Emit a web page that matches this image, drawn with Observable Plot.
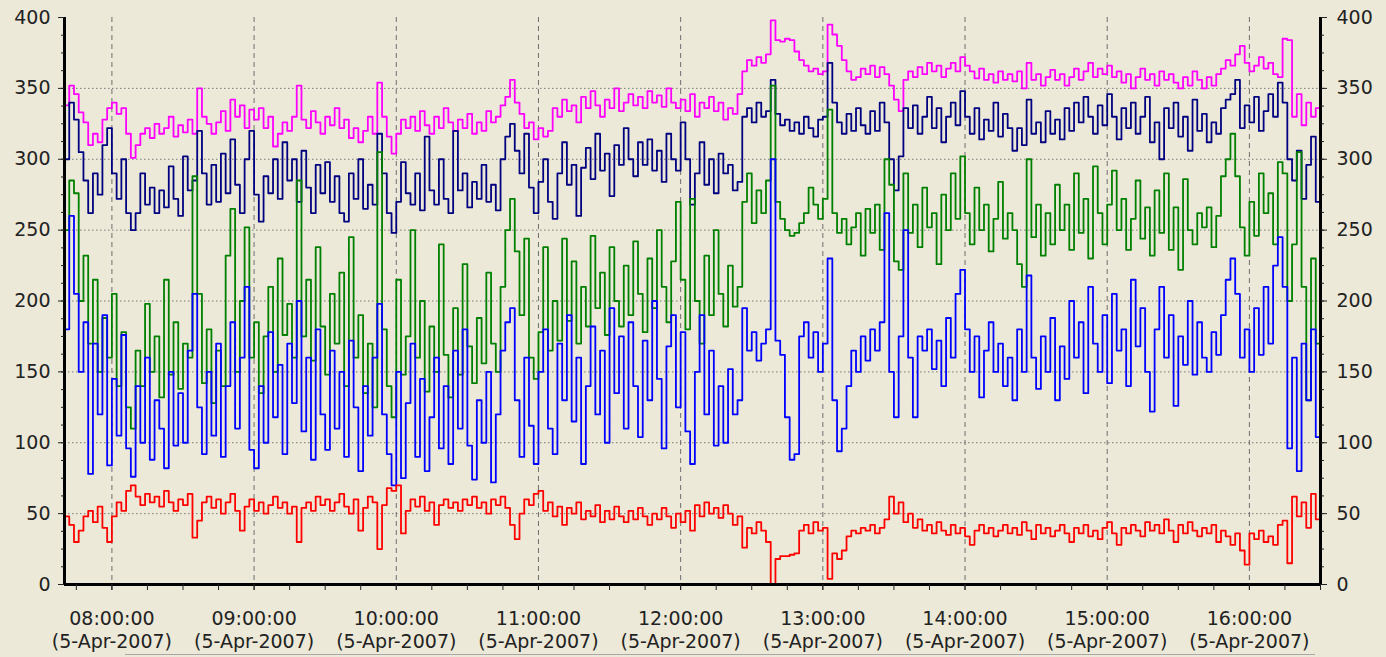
<!DOCTYPE html>
<html>
<head>
<meta charset="utf-8">
<script src="https://cdn.jsdelivr.net/npm/d3@7"></script>
<script src="https://cdn.jsdelivr.net/npm/@observablehq/plot@0.6"></script>
<style>
html, body { margin: 0; padding: 0; background: #ECE9D8; overflow: hidden; }
#chart { position: relative; width: 1386px; height: 657px; }
#chart svg { position: absolute; left: 0; top: 0; }
#baseline { position: absolute; left: 125px; top: 654px; width: 1190px; height: 1px; background: #a8a8a8; }
</style>
</head>
<body>
<div id="chart"><div id="baseline"></div></div>
<script>
// Samples every 2 minutes from 07:40 to 16:30 on 5-Apr-2007
const startTime = Date.UTC(2007, 3, 5, 7, 40);
const stepMinutes = 2;
const dateLabel = "(5-Apr-2007)";
const hourTicks = [8, 9, 10, 11, 12, 13, 14, 15, 16];
const yTicks = [0, 50, 100, 150, 200, 250, 300, 350, 400];
const yGrid = [50, 100, 150, 200, 250, 300, 350];

const magenta = [
338,352,346,333,326,310,318,312,328,336,
340,332,336,318,301,310,318,322,315,325,
318,322,330,316,324,319,328,318,350,330,
325,318,326,334,320,342,330,338,322,335,
328,336,322,330,309,318,326,320,330,352,
328,322,334,326,318,330,324,336,322,328,
315,322,312,320,330,318,354,330,316,304,
318,328,322,330,320,334,324,318,330,322,
336,326,320,328,322,332,318,326,320,334,
326,330,338,344,356,340,332,322,326,314,
322,316,320,336,330,342,334,338,326,344,
336,348,338,330,342,336,350,334,340,346,
338,344,336,348,340,345,337,350,340,336,
342,334,346,330,340,336,344,334,340,328,
336,332,346,362,370,366,372,368,374,398,
384,383,385,384,376,370,366,362,364,360,
362,395,388,380,370,362,356,358,364,360,
366,358,365,360,352,342,334,356,362,358,
365,360,368,362,366,358,364,368,362,372,
366,362,357,364,356,360,354,362,356,360,
355,362,350,368,356,360,352,358,363,356,
360,352,358,364,356,362,368,358,364,360,
366,358,362,354,360,350,358,364,356,360,
352,362,356,360,354,350,358,352,362,356,
350,358,352,360,364,370,366,374,380,368,
362,366,372,364,368,360,358,385,384,330,
346,324,340,330,336,322];

const navy = [
300,340,328,305,285,262,290,275,310,322,
290,272,300,262,250,262,290,268,280,262,
278,266,295,272,260,302,278,285,320,290,
268,296,270,304,276,314,282,262,300,320,
275,256,288,276,300,272,312,285,300,270,
306,280,262,296,276,298,270,288,262,256,
290,272,300,265,282,268,318,290,262,248,
270,298,276,268,290,264,316,278,268,300,
272,262,320,278,290,266,284,272,296,270,
282,264,300,316,325,306,290,318,280,262,
284,300,270,258,290,312,282,296,260,294,
308,286,318,292,304,274,310,296,322,300,
288,312,296,314,292,306,284,318,300,292,
326,300,268,290,312,282,300,276,304,290,
296,278,284,330,336,326,340,330,334,356,
332,324,328,320,326,318,330,322,316,328,
330,368,340,326,318,332,320,336,324,318,
334,320,340,326,300,278,302,336,322,338,
318,330,344,322,336,312,330,340,324,348,
330,318,336,314,328,320,340,316,332,322,
306,322,310,342,318,326,312,334,318,328,
314,336,320,340,326,344,330,318,338,324,
346,330,314,336,322,340,318,330,344,312,
326,300,336,322,340,316,330,306,342,320,
332,312,326,318,336,342,346,356,322,338,
326,344,320,334,346,330,354,340,300,285,
306,272,296,316,270,300];

const green = [
250,285,276,200,232,170,215,150,188,160,
205,140,178,125,110,165,140,198,150,175,
132,215,148,185,138,170,160,288,205,142,
180,128,165,140,232,265,150,200,252,160,
185,135,175,210,150,230,176,198,160,285,
175,215,158,238,182,148,205,170,220,140,
245,160,190,135,170,125,305,180,140,118,
215,148,175,250,160,200,136,182,150,240,
162,132,195,148,226,168,142,188,156,220,
170,150,210,250,272,235,190,244,160,145,
178,238,165,200,172,244,186,228,170,210,
182,246,195,220,176,238,200,182,225,190,
242,205,178,230,195,250,210,185,228,270,
215,180,272,200,170,232,190,250,205,182,
225,196,210,270,290,255,278,262,285,352,
270,258,250,246,248,255,262,280,268,258,
272,335,262,248,258,240,252,262,232,265,
248,268,236,300,282,228,222,290,248,268,
238,280,252,262,226,275,250,290,258,302,
262,240,280,250,268,235,258,284,244,262,
250,226,210,300,245,268,232,262,240,282,
250,268,236,290,248,272,230,295,262,240,
268,292,250,272,236,258,285,244,266,232,
278,248,290,236,266,222,286,250,240,262,
252,266,238,260,288,300,318,288,252,232,
270,246,290,262,276,240,298,290,200,240,
305,210,130,230,170,245];

const blue = [
180,260,205,150,185,78,170,120,190,84,
145,105,176,96,76,140,100,160,88,130,
110,82,150,98,135,100,165,205,125,92,
150,105,170,90,140,185,110,160,210,95,
82,140,100,178,118,155,92,170,128,200,
108,160,88,180,120,95,165,110,150,90,
172,125,80,140,105,160,198,120,92,70,
150,75,128,170,90,145,80,118,160,96,
140,85,165,110,180,98,74,130,100,150,
72,120,165,185,195,130,90,160,112,85,
150,180,110,92,170,130,190,115,160,85,
140,182,120,165,100,195,135,175,110,185,
140,104,172,130,200,145,96,168,190,125,
178,108,85,150,190,120,165,98,140,100,
152,120,130,195,165,178,158,170,180,300,
172,162,118,88,92,175,185,160,178,150,
170,230,130,94,110,140,165,150,175,158,
180,165,185,262,150,118,175,250,160,118,
175,165,180,152,172,140,188,160,205,222,
180,150,175,132,165,185,150,170,140,160,
130,180,150,218,160,138,175,150,188,130,
168,145,200,160,185,135,210,170,150,190,
142,205,165,180,140,215,168,195,150,122,
180,210,160,190,126,175,155,200,148,185,
160,150,178,162,190,215,230,205,160,180,
150,195,162,210,170,225,245,210,96,160,
80,170,130,180,104,150];

const red = [
48,42,30,38,48,52,44,55,40,30,
48,58,52,66,70,62,56,64,58,62,
55,66,58,52,60,56,64,33,45,58,
62,54,60,50,58,64,52,38,55,60,
52,58,50,56,62,54,58,50,55,30,
54,58,52,62,56,60,52,58,64,55,
50,60,38,54,62,58,25,56,68,66,
70,36,52,60,55,62,52,58,42,56,
60,54,58,52,60,56,62,54,58,50,
60,56,62,54,42,32,50,60,56,64,
66,52,58,48,55,42,54,50,58,46,
52,48,56,44,52,46,55,48,44,52,
46,54,48,42,50,46,54,48,40,50,
44,52,38,56,48,58,50,54,47,56,
50,42,48,26,40,36,44,38,30,0,
18,20,20,21,22,38,42,36,44,38,
40,4,22,18,24,34,38,36,40,38,
42,36,40,46,62,50,58,44,50,40,
46,38,42,36,44,38,35,42,36,40,
34,28,38,42,36,40,34,38,42,36,
40,35,44,38,32,42,36,40,34,38,
42,36,30,40,36,42,34,38,32,40,
44,36,28,40,36,42,38,34,44,38,
42,36,46,38,30,42,36,44,38,34,
40,36,42,30,38,34,28,36,24,14,
36,32,38,30,34,28,42,45,15,62,
48,58,40,64,46,58];

// drawing order: first drawn is underneath
const seriesNames = ["magenta", "navy", "green", "blue", "red"];
const seriesValues = [magenta, navy, green, blue, red];
const seriesColors = ["#FF00FF", "#000080", "#008000", "#0000FF", "#FF0000"];

const toTime = i => new Date(startTime + i * stepMinutes * 60000);
const endTime = toTime(magenta.length - 1);
const hourDates = hourTicks.map(h => new Date(Date.UTC(2007, 3, 5, h, 0)));
const quarterDates = d3.utcMinute.every(15).range(new Date(startTime), new Date(+endTime + 1));
const minorY = d3.range(0, 400.1, 12.5);

const lineMarks = seriesValues.map((vals, k) =>
  Plot.line(vals.map((v, i) => ({time: toTime(i), value: v})), {
    x: "time", y: "value", stroke: seriesColors[k], strokeWidth: 1.8, curve: "step-after"
  })
);

const fmt = d3.utcFormat("%H:%M:%S");

const chart = Plot.plot({
  width: 1386,
  height: 657,
  marginLeft: 64,
  marginRight: 66,
  marginTop: 17,
  marginBottom: 73,
  style: {background: "transparent", fontFamily: "'DejaVu Sans', sans-serif", fontSize: "19px", color: "#222"},
  x: {type: "utc", domain: [new Date(startTime), endTime], label: null},
  y: {domain: [0, 400], label: null},
  marks: [
    Plot.ruleY(yGrid, {stroke: "#7a7a7a", strokeDasharray: "1.5,2.5", strokeWidth: 1}),
    Plot.ruleX(hourDates, {stroke: "#6e6e6e", strokeDasharray: "5,4", strokeWidth: 1}),
    ...lineMarks,
    Plot.ruleX([new Date(startTime), endTime], {stroke: "#000", strokeWidth: 3}),
    Plot.ruleY([0], {stroke: "#000", strokeWidth: 3}),
    Plot.axisY({anchor: "left", ticks: yTicks, tickSize: 6, tickPadding: 8, fontSize: 19, tickFormat: d => String(d), label: null}),
    Plot.axisY({anchor: "left", ticks: minorY, tickSize: 3, tickFormat: () => "", label: null}),
    Plot.axisY({anchor: "right", ticks: yTicks, tickSize: 6, tickPadding: 10, fontSize: 19, tickFormat: d => String(d), label: null}),
    Plot.axisY({anchor: "right", ticks: minorY, tickSize: 3, tickFormat: () => "", label: null}),
    Plot.axisX({anchor: "bottom", ticks: hourDates, tickSize: 6, tickPadding: 17, fontSize: 19, lineHeight: 1.26,
      tickFormat: d => fmt(d) + "\n" + dateLabel, label: null}),
    Plot.axisX({anchor: "bottom", ticks: quarterDates, tickSize: 6, tickFormat: () => "", label: null})
  ]
});
document.getElementById("chart").appendChild(chart);
</script>
</body>
</html>
